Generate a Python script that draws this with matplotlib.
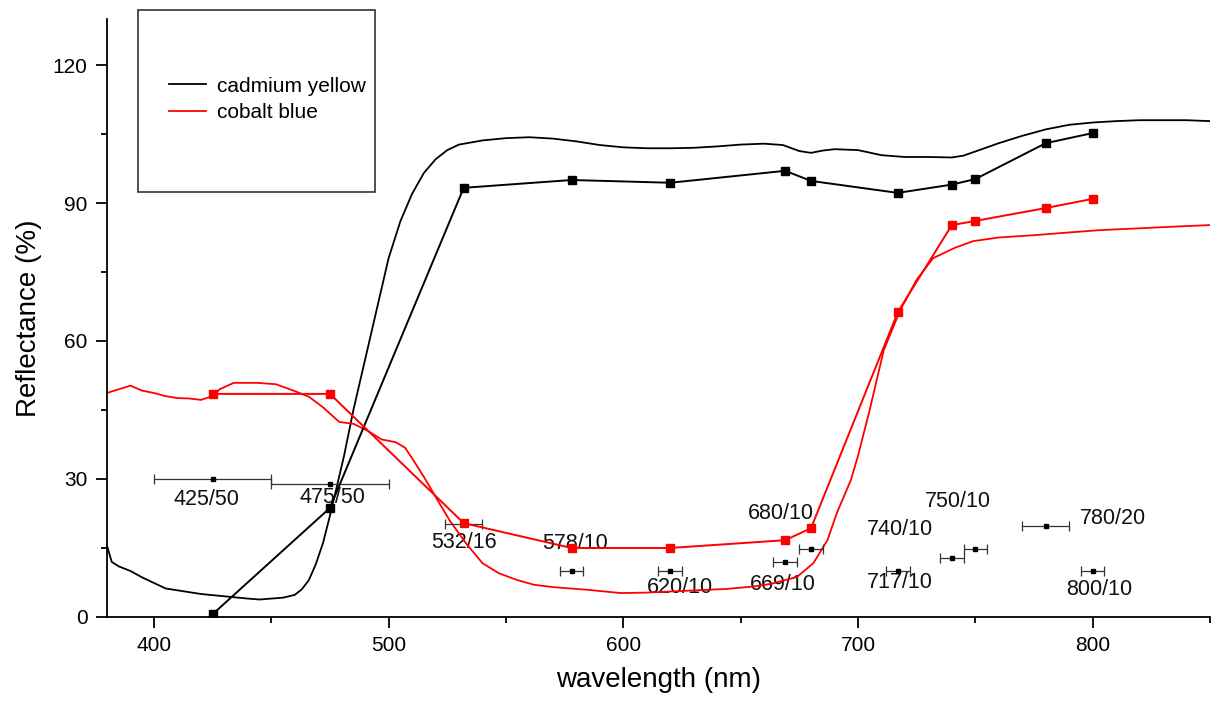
import numpy as np
import matplotlib.pyplot as plt
from matplotlib.patches import Rectangle
from matplotlib.ticker import MultipleLocator

plt.rcParams['font.family'] = ['Liberation Sans', 'DejaVu Sans']

# continuous reflectance spectra
cy_wl = [380, 382, 385, 390, 395, 400, 405, 410, 420, 430, 440, 445, 450, 455, 460, 463,
         466, 469, 472, 475, 478, 481, 485, 490, 495, 500, 505, 510, 515, 520, 525, 530,
         540, 550, 560, 570, 580, 590, 600, 610, 620, 630, 640, 650, 660, 668, 675, 680,
         685, 690, 700, 710, 720, 730, 740, 745, 750, 760, 770, 780, 790, 800, 810, 820,
         830, 840, 850]
cy_refl = [15.5, 12.0, 11.0, 10.0, 8.6, 7.4, 6.2, 5.8, 5.0, 4.5, 4.0, 3.8, 4.0, 4.2, 4.8, 6.0,
           8.0, 11.5, 16.0, 22.0, 28.5, 35.0, 45.0, 56.0, 67.0, 78.0, 86.0, 92.0, 96.5, 99.5, 101.5, 102.7,
           103.6, 104.1, 104.3, 104.0, 103.4, 102.6, 102.1, 101.9, 101.9, 102.0, 102.3, 102.7, 102.9, 102.6, 101.3, 100.9,
           101.4, 101.7, 101.5, 100.4, 100.0, 100.0, 99.9, 100.3, 101.2, 103.0, 104.6, 106.0, 107.0, 107.5, 107.8, 108.0,
           108.0, 108.0, 107.8]

cb_wl = [380, 385, 390, 395, 400, 405, 410, 415, 420, 425, 428, 434, 444, 452, 459, 466,
         472, 479, 485, 491, 497, 503, 507, 510, 515, 519, 526, 533, 540, 547, 555, 562,
         570, 585, 599, 610, 627, 644, 655, 663, 674, 681, 687, 691, 697, 700, 705, 711,
         718, 725, 732, 741, 749, 760, 775, 790, 803, 820, 832, 850]
cb_refl = [48.7, 49.5, 50.3, 49.2, 48.7, 48.0, 47.6, 47.5, 47.2, 48.0, 49.5, 50.9, 50.9, 50.6, 49.3, 47.9,
           45.6, 42.4, 42.0, 40.5, 38.6, 38.0, 36.8, 34.5, 30.5, 27.0, 21.0, 16.0, 11.7, 9.5, 8.0, 7.0,
           6.5, 5.9, 5.2, 5.3, 5.7, 6.1, 6.6, 7.2, 8.7, 11.7, 16.7, 22.6, 29.8, 35.0, 45.0, 58.0,
           66.7, 73.3, 78.0, 80.2, 81.7, 82.5, 83.0, 83.6, 84.1, 84.5, 84.8, 85.2]

# filter-band measurements
band_center = [425, 475, 532, 578, 620, 669, 680, 717, 740, 750, 780, 800]
cy_band = [0.6, 23.7, 93.3, 95.0, 94.4, 97.0, 94.8, 92.2, 94.0, 95.2, 103.0, 105.2]
cb_band = [48.5, 48.5, 20.4, 15.0, 15.0, 16.7, 19.3, 66.3, 85.2, 86.1, 88.9, 90.9]

# filter bandwidth marks (centre/width) and their labels
band_width = [50, 50, 16, 10, 10, 10, 10, 10, 10, 10, 20, 10]
band_mark_y = [30, 28.9, 20.2, 10, 10, 12, 14.8, 10, 12.8, 14.8, 19.8, 10]
band_labels = ['425/50', '475/50', '532/16', '578/10', '620/10', '669/10', '680/10',
               '717/10', '740/10', '750/10', '780/20', '800/10']
label_x = [422.5, 476, 532, 579.5, 624, 668, 667, 718, 718, 742.5, 808.5, 803]
label_y = [25.6, 25.9, 16.1, 15.9, 6.5, 7.0, 22.6, 7.4, 19.1, 25.2, 21.5, 5.9]

fig = plt.figure(figsize=(12.13, 7.04), dpi=100)
ax = fig.add_axes([0.0882, 0.1236, 0.9093, 0.8494])

ax.plot(cy_wl, cy_refl, color='black', lw=1.3, label='cadmium yellow')
ax.plot(cb_wl, cb_refl, color='#ff0000', lw=1.3, label='cobalt blue')

ax.errorbar(band_center, band_mark_y, xerr=np.array(band_width) / 2, fmt='s', color='black',
            ms=3, elinewidth=0.9, capsize=3.5, capthick=0.9, ecolor='#333333', zorder=2)

ax.plot(band_center, cy_band, color='black', lw=1.4, marker='s', ms=6, zorder=3)
ax.plot(band_center, cb_band, color='#ff0000', lw=1.4, marker='s', ms=6, zorder=3)

for lx, ly, txt in zip(label_x, label_y, band_labels):
    ax.text(lx, ly, txt, fontsize=15.5, ha='center', va='center', color='#111111', zorder=1)

ax.set_xlim(380, 850)
ax.set_ylim(0, 130)
ax.xaxis.set_major_locator(MultipleLocator(100))
ax.xaxis.set_minor_locator(MultipleLocator(50))
ax.yaxis.set_major_locator(MultipleLocator(30))
ax.yaxis.set_minor_locator(MultipleLocator(15))
ax.set_yticks([0, 30, 60, 90, 120])

for s in ['top', 'right']:
    ax.spines[s].set_visible(False)
for s in ['left', 'bottom']:
    ax.spines[s].set_linewidth(1.3)

ax.tick_params(which='major', direction='out', length=8, width=1.3, labelsize=15, pad=6)
ax.tick_params(which='minor', direction='out', length=4.5, width=1.3)

ax.set_xlabel('wavelength (nm)', fontsize=20, labelpad=8)
ax.set_ylabel('Reflectance (%)', fontsize=20, labelpad=8)

# legend frame
fig.add_artist(Rectangle((138 / 1213, 1 - 192 / 704), 237 / 1213, 182 / 704,
                         transform=fig.transFigure, fill=False, edgecolor='#333333', lw=1.2))
ax.legend(loc='upper left', bbox_to_anchor=(150 / 1213, 1 - 58 / 704), bbox_transform=fig.transFigure,
          frameon=False, fontsize=15, handlelength=1.8, handletextpad=0.5, labelspacing=0.35)

plt.savefig('out.png', dpi=100)
